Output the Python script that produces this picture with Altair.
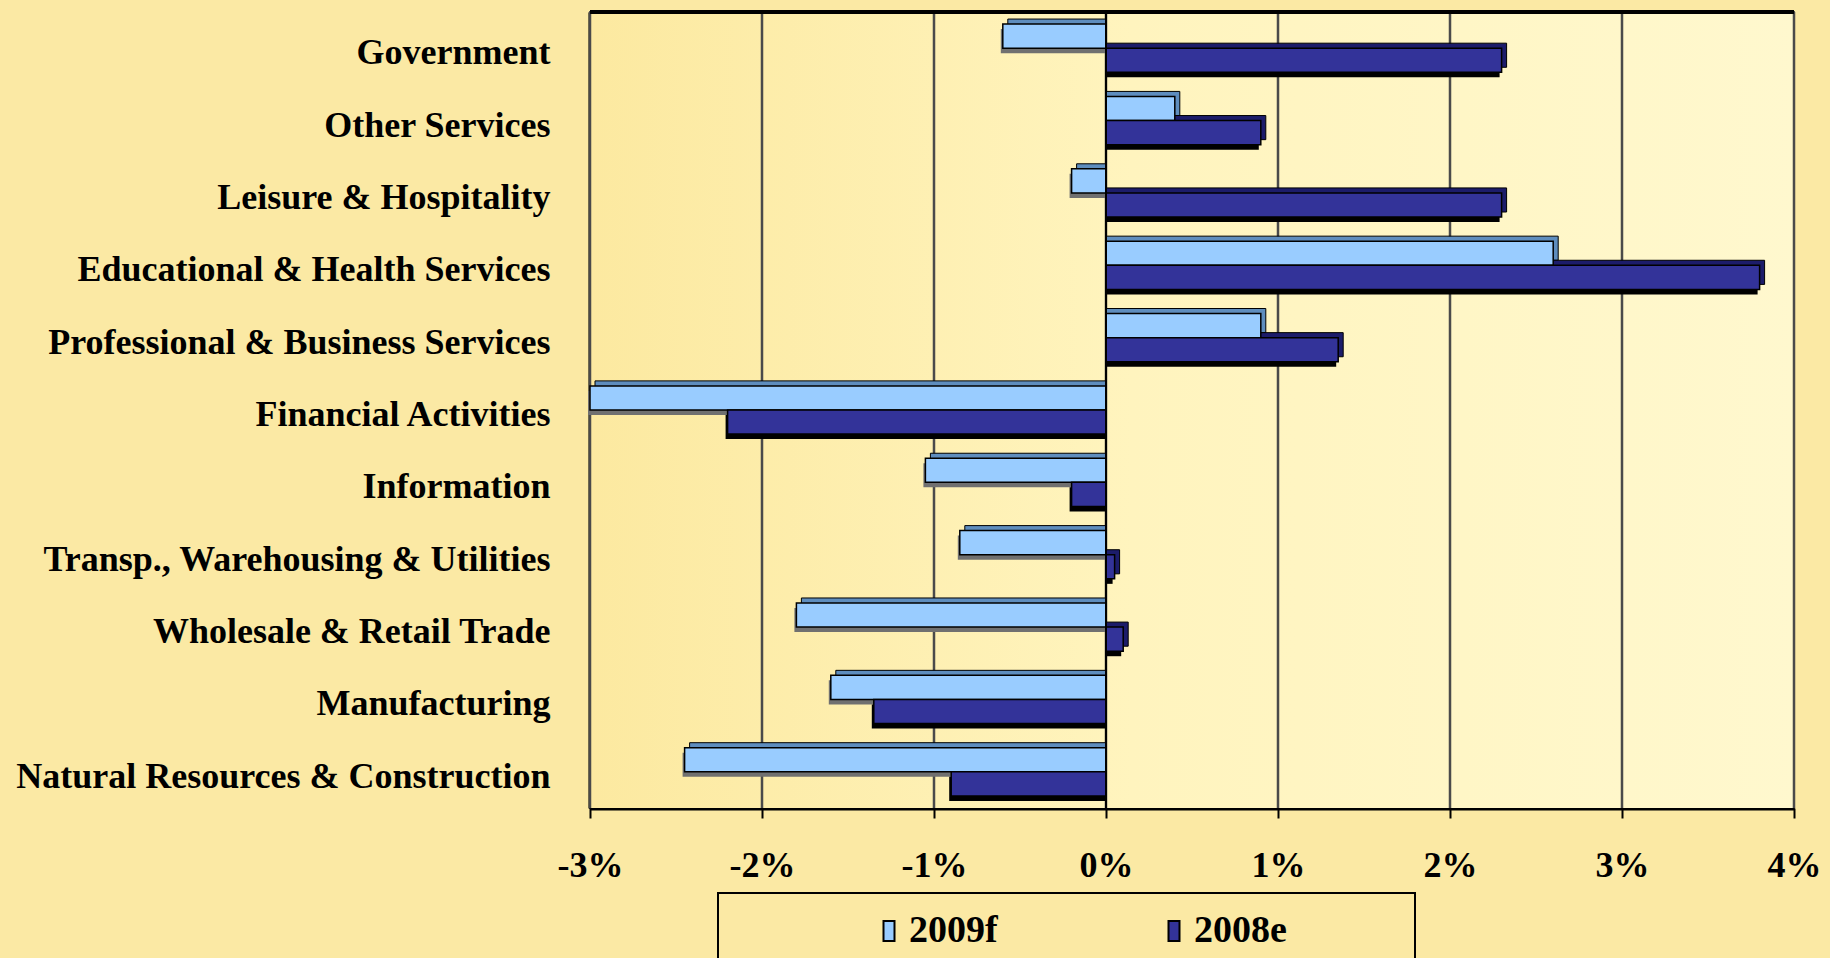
import altair as alt
import pandas as pd

categories = ["Government", "Other Services", "Leisure & Hospitality",
              "Educational & Health Services", "Professional & Business Services",
              "Financial Activities", "Information", "Transp., Warehousing & Utilities",
              "Wholesale & Retail Trade", "Manufacturing", "Natural Resources & Construction"]
series = ["2009f", "2008e"]
v2009f = [-0.6, 0.4, -0.2, 2.6, 0.9, -3.0, -1.05, -0.85, -1.8, -1.6, -2.45]
v2008e = [2.3, 0.9, 2.3, 3.8, 1.35, -2.2, -0.2, 0.05, 0.1, -1.35, -0.9]
x_ticks = [-3, -2, -1, 0, 1, 2, 3, 4]

rows = []
for c, a, b in zip(categories, v2009f, v2008e):
    rows.append({"cat": c, "series": "2009f", "value": a, "slot": c + "|2009f"})
    rows.append({"cat": c, "series": "2008e", "value": b, "slot": c + "|2008e"})
df = pd.DataFrame(rows)
ticks_df = pd.DataFrame({"t": x_ticks})

# band slots: two bars per category, one empty slot between categories
slots = []
for i, c in enumerate(categories):
    slots += [c + "|2009f", c + "|2008e"]
    if i < len(categories) - 1:
        slots.append(c + "|gap")

W, H = 1204, 796
FONT = "Liberation Serif"
STEP = H / (len(slots) + 1.0)
D = 5

ysc = alt.Scale(domain=slots, paddingInner=0, paddingOuter=0.5)
xsc = alt.Scale(domain=[-3, 4], nice=False, clamp=True)

yaxis = alt.Axis(title=None, labelFont=FONT, labelFontWeight="bold", labelFontSize=36,
                 labelColor="black", labelPadding=40, ticks=False, domain=True,
                 domainColor="black", domainWidth=4, labelLimit=800,
                 labelOffset=STEP / 2 + 5, labelBound=False, labelOverlap=False,
                 labelExpr="split(datum.value, '|')[1] == '2009f' ? split(datum.value, '|')[0] : ''")
xaxis = alt.Axis(title=None, values=x_ticks, labelExpr="datum.value + '%'",
                 labelFont=FONT, labelFontWeight="bold", labelFontSize=36,
                 labelColor="black", labelPadding=30, tickSize=10, tickColor="black",
                 tickWidth=2, domainColor="black", domainWidth=4, grid=False,
                 labelFlush=False, labelBound=False, labelOverlap=False)

bg = alt.Chart(df).mark_rect(
    color=alt.LinearGradient(gradient="linear", x1=0, x2=1, y1=0, y2=0,
                             stops=[alt.GradientStop(color="#FCE9A0", offset=0),
                                    alt.GradientStop(color="#FFF4BE", offset=0.45),
                                    alt.GradientStop(color="#FFF8CE", offset=1)])
).encode(x=alt.value(0), x2=alt.value(W), y=alt.value(0), y2=alt.value(H))

grid = alt.Chart(ticks_df).mark_rule(color="#4A4A4A", strokeWidth=2.5).encode(
    x=alt.X("t:Q", scale=xsc, axis=xaxis))

is09 = alt.datum.series == "2009f"


def face(dx, dy, c09, c08, stroke, sw):
    props = dict(xOffset=dx, yOffset=dy, y2Offset=dy, strokeWidth=sw)
    if stroke:
        props["stroke"] = stroke
    return alt.Chart(df).mark_bar(**props).encode(
        y=alt.Y("slot:N", scale=ysc, axis=yaxis),
        x=alt.X("value:Q", scale=xsc, axis=xaxis),
        x2=alt.datum(0),
        color=alt.condition(is09, alt.value(c09), alt.value(c08)),
    )


shadow = face(-2, D, "#707070", "#000000", None, 0)
depth = face(D, -D, "#5E8DBE", "#1C1C6A", "black", 1)

bars = alt.Chart(df).mark_bar(stroke="black", strokeWidth=1.5).encode(
    y=alt.Y("slot:N", scale=ysc, axis=yaxis),
    x=alt.X("value:Q", scale=xsc, axis=xaxis),
    x2=alt.datum(0),
    color=alt.Color("series:N", scale=alt.Scale(domain=series, range=["#99CCFF", "#333399"]),
                    legend=alt.Legend(title=None, orient="none", legendX=268, legendY=900, padding=0,
                                      direction="horizontal", columns=2, columnPadding=145,
                                      symbolType="M-1,-1.8H1V1.8H-1Z", symbolSize=121,
                                      symbolOffset=12,
                                      symbolStrokeColor="black", symbolStrokeWidth=2, labelFont=FONT,
                                      labelFontWeight="bold", labelFontSize=38, labelColor="black",
                                      labelOffset=1)),
)

zero = alt.Chart(ticks_df).mark_rule(color="black", strokeWidth=2).encode(x=alt.datum(0))

frame = alt.Chart(ticks_df).mark_rect(filled=False, stroke="black", strokeWidth=2).encode(
    x=alt.value(128), x2=alt.value(825), y=alt.value(881), y2=alt.value(990))

topline = alt.Chart(ticks_df).mark_rule(color="black", strokeWidth=3).encode(
    x=alt.value(0), x2=alt.value(W), y=alt.value(0))

chart = alt.layer(bg, grid, shadow, depth, bars, zero, topline, frame).properties(
    width=W, height=H,
    background="#FBE9A4",
    padding={"left": 590, "top": 12, "right": 36, "bottom": 150},
    autosize=alt.AutoSizeParams(type="none"),
).configure_view(stroke="#555555", strokeWidth=2)

chart.save("out.html", embed_options={"renderer": "svg", "actions": False})
